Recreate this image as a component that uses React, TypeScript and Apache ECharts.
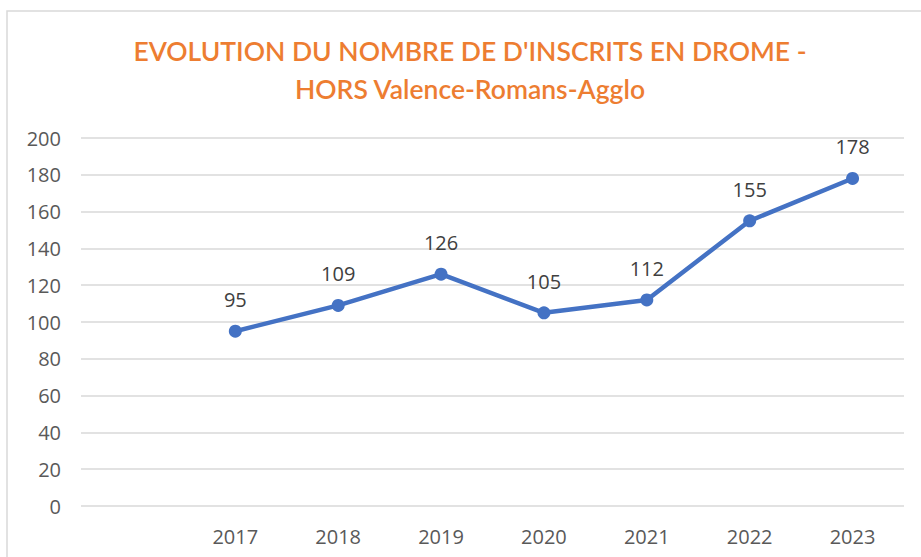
import React, { useEffect, useRef } from "react";
import * as echarts from "echarts";

const categories = ["", "2017", "2018", "2019", "2020", "2021", "2022", "2023"];
const values: (number | null)[] = [null, 95, 109, 126, 105, 112, 155, 178];
const yTicks = { min: 0, max: 200, interval: 20 };
const titleLines = ["EVOLUTION DU NOMBRE DE D'INSCRITS EN DROME -", "HORS Valence-Romans-Agglo"];

export default function App() {
  const ref = useRef<HTMLDivElement>(null);
  useEffect(() => {
    if (!ref.current) return;
    const chart = echarts.init(ref.current, null, { renderer: "svg" });
    chart.setOption({
      animation: false,
      backgroundColor: "#ffffff",
      title: {
        text: titleLines.join("\n"),
        left: 465,
        top: 27,
        textAlign: "center",
        textStyle: {
          fontFamily: "Lato",
          fontWeight: 600,
          fontSize: 26.5,
          lineHeight: 38,
          color: "#ED7D31",
        },
      },
      graphic: [
        {
          type: "rect",
          shape: { x: 7, y: 11, width: 940, height: 580 },
          style: { fill: "none", stroke: "#d9d9d9", lineWidth: 1.5 },
          silent: true,
        },
      ],
      grid: { left: 81, right: 17, top: 138, bottom: 51 },
      xAxis: {
        type: "category",
        data: categories,
        boundaryGap: true,
        axisLine: { show: false },
        axisTick: { show: false },
        axisLabel: { color: "#595959", fontSize: 20, fontFamily: "Open Sans", margin: 20 },
      },
      yAxis: {
        type: "value",
        min: yTicks.min,
        max: yTicks.max,
        interval: yTicks.interval,
        axisLine: { show: false },
        axisTick: { show: false },
        splitLine: { lineStyle: { color: "#d9d9d9", width: 1.5 } },
        axisLabel: { color: "#595959", fontSize: 20, fontFamily: "Open Sans", margin: 20 },
      },
      series: [
        {
          type: "line",
          data: values,
          connectNulls: false,
          symbol: "circle",
          symbolSize: 13,
          lineStyle: { color: "#4472C4", width: 4.5 },
          itemStyle: { color: "#4472C4" },
          label: {
            show: true,
            position: "top",
            distance: 15,
            color: "#404040",
            fontSize: 20,
            fontFamily: "Open Sans",
          },
        },
      ],
    });
    return () => chart.dispose();
  }, []);
  return (
    <div
      ref={ref}
      style={{ position: "fixed", left: 0, top: 0, width: 921, height: 557 }}
    />
  );
}
